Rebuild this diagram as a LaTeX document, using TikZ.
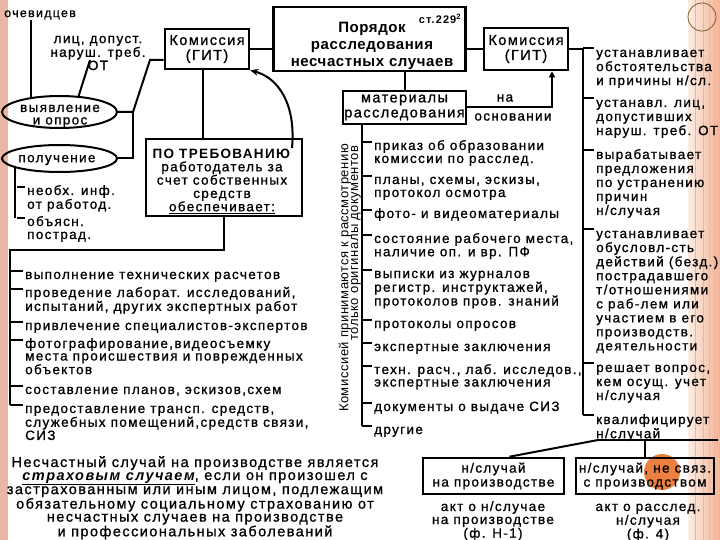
\documentclass[tikz,border=0pt]{standalone}
\usepackage{fontspec}
\setmainfont{Liberation Sans}[LetterSpace=10,UprightFeatures={FakeBold=1}]
\newfontfamily\tfam{Liberation Sans}[LetterSpace=4]
\usetikzlibrary{arrows.meta,shapes.geometric}
\definecolor{pinkbar}{RGB}{233,183,163}
\definecolor{stripeA}{RGB}{253,236,226}
\definecolor{stripeB}{RGB}{243,180,152}
\definecolor{orng}{RGB}{236,128,64}
\newcommand\fA{\fontsize{13.5}{13}\selectfont}
\newcommand\fAt{\fontsize{13.5}{12.5}\selectfont}
\newcommand\fR{\fontsize{13.5}{14}\selectfont}
\newcommand\fT{\tfam\fontsize{15}{17}\selectfont\bfseries}
\newcommand\fK{\fontsize{14.5}{15}\selectfont}
\newcommand\tl[1]{\begin{tabular}[t]{@{}l@{}}#1\end{tabular}}
\newcommand\tc[1]{\begin{tabular}[t]{@{}c@{}}#1\end{tabular}}
\begin{document}
\begin{tikzpicture}[x=1pt,y=-1pt,
  box/.style={draw, line width=2.6pt, inner sep=0pt, align=center},
  ln/.style={line width=2pt},
  tk/.style={line width=2pt},
  itm/.style={anchor=base west, inner sep=0pt, font=\fA},
  itmt/.style={anchor=base west, inner sep=0pt, font=\fAt},
  ritm/.style={anchor=base west, inner sep=0pt, font=\fR},
  lbl/.style={inner sep=0pt, align=center},
  ell/.style={draw, ellipse, line width=2pt, inner sep=0pt}]
\useasboundingbox (0,0) rectangle (720,540);
% decoration
\fill[pinkbar] (0,0) rectangle (8,540);
\shade[left color=stripeA, right color=stripeB] (688,0) rectangle (720,540);
\foreach \x in {695,703,709,714} \draw[stripeB, line width=1pt] (\x,0) -- (\x,540);
\draw[brown!70!black, line width=0.8pt] (702,17) circle[radius=14];
\fill[orng] (662,472) circle[radius=18];

% main boxes
\node[box, minimum width=192pt, minimum height=64pt] (title) at (369.5,39) {};
\node[lbl, font=\fT] (ttl) at (372,46) {Порядок\\расследования\\несчастных случаев};
\node[lbl, font=\fontsize{11}{11}\selectfont\bfseries] (art) at (440,19) {ст.229\textsuperscript{2}};
\node[box, minimum width=84pt, minimum height=40pt, font=\fK] (kom1) at (207,49) {Комиссия\\(ГИТ)};
\node[box, minimum width=84pt, minimum height=42pt, font=\fK] (kom2) at (526,49) {Комиссия\\(ГИТ)};
\node[box, minimum width=123pt, minimum height=33pt, font=\fK] (mat) at (404.5,107.5) {материалы\\расследования};
\node[lbl, font=\fA] (na) at (505,98) {на};
\node[lbl, font=\fA] (osn) at (513,117) {основании};
\node[box, minimum width=156pt, minimum height=77pt] (req) at (224,177.5) {};
\node[lbl, font=\fontsize{13.5}{13.3}\selectfont] (reqt) at (222,181) {\textbf{ПО ТРЕБОВАНИЮ}\\работодатель за\\счет собственных\\средств\\\underline{обеспечивает:}};

% ellipses and left top
\node[ell, minimum width=115pt, minimum height=32pt] (vyav) at (59.5,112) {};
\node[lbl, font=\fAt] (vyavt) at (60,116) {выявление\\и опрос};
\node[ell, minimum width=115pt, minimum height=27pt] (pol) at (59.5,158.5) {};
\node[lbl, font=\fA] (polt) at (57,160) {получение};
\node[lbl, font=\fontsize{12.5}{13}\selectfont, anchor=west] (ochev) at (4,15) {очевидцев};
\node[lbl, font=\fontsize{13.5}{11.5}\selectfont] (lic) at (98,53) {лиц, допуст.\\наруш. треб.\\ОТ};
\node[itm] (i1) at (27,195) {\tl{необх. инф.\\от работод.}};
\node[itm] (i2) at (27,226) {\tl{объясн.\\пострад.}};

% left list
\node[itm] (l1) at (25,279) {выполнение технических расчетов};
\node[itm] (l2) at (25,297) {\tl{проведение лаборат. исследований,\\испытаний, других экспертных работ}};
\node[itm] (l3) at (25,330) {привлечение специалистов-экспертов};
\node[itmt] (l4) at (25,348) {\tl{фотографирование,видеосъемку\\места происшествия и поврежденных\\объектов}};
\node[itm] (l5) at (25,394) {составление планов, эскизов,схем};
\node[itmt] (l6) at (25,413) {\tl{предоставление трансп. средств,\\служебных помещений,средств связи,\\СИЗ}};

% middle list
\node[lbl, rotate=90, font=\tfam\fontsize{13}{13}\selectfont] (rot1) at (345,278) {Комиссией принимаются к рассмотрению};
\node[lbl, rotate=90, font=\tfam\fontsize{13}{13}\selectfont] (rot2) at (356,243) {только оригиналы документов};
\node[itm] (m1) at (374,150) {\tl{приказ об образовании\\комиссии по расслед.}};
\node[itm] (m2) at (374,184) {\tl{планы, схемы, эскизы,\\протокол осмотра}};
\node[itm] (m3) at (374,218) {фото- и видеоматериалы};
\node[itm] (m4) at (374,243) {\tl{состояние рабочего места,\\наличие оп. и вр. ПФ}};
\node[itmt] (m5) at (374,278) {\tl{выписки из журналов\\регистр. инструктажей,\\протоколов пров. знаний}};
\node[itm] (m6) at (374,328) {протоколы опросов};
\node[itm] (m7) at (374,351) {экспертные заключения};
\node[itmt] (m8) at (374,374) {\tl{техн. расч., лаб. исследов.,\\экспертные заключения}};
\node[itm] (m9) at (374,411) {документы о выдаче СИЗ};
\node[itm] (m10) at (374,434) {другие};

% right list
\node[ritm] (r1) at (596,57) {\tl{устанавливает\\обстоятельства\\и причины н/сл.}};
\node[ritm] (r2) at (596,107) {\tl{устанавл. лиц,\\допустивших\\наруш. треб. ОТ}};
\node[ritm] (r3) at (596,159) {\tl{вырабатывает\\предложения\\по устранению\\причин\\н/случая}};
\node[ritm] (r4) at (596,238) {\tl{устанавливает\\обусловл-сть\\действий (безд.)\\пострадавшего\\т/отношениями\\с раб-лем или\\участием в его\\производств.\\деятельности}};
\node[ritm] (r5) at (596,372) {\tl{решает вопрос,\\кем осущ. учет\\н/случая}};
\node[ritm] (r6) at (596,424) {\tl{квалифицирует\\н/случай}};

% bottom
\node[box, minimum width=141pt, minimum height=36pt, font=\fR] (ns1) at (493.5,476) {н/случай\\на производстве};
\node[box, minimum width=138pt, minimum height=36pt, font=\fR] (ns2) at (645,476) {н/случай, не связ.\\с производством};
\node[inner sep=0pt, font=\fontsize{13.5}{13}\selectfont, anchor=base] (akt1) at (493,511) {\tc{акт о н/случае\\на производстве\\(ф. Н-1)}};
\node[inner sep=0pt, font=\fontsize{13.5}{13}\selectfont, anchor=base] (akt2) at (648,511) {\tc{акт о расслед.\\н/случая\\(ф. 4)}};
\node[inner sep=0pt, font=\fontsize{14.5}{13}\selectfont, anchor=base] (para) at (195,467) {\tc{Несчастный случай на производстве является\\\textbf{\textit{\underline{страховым случаем}}}, если он произошел с\\застрахованным или иным лицом, подлежащим\\обязательному социальному страхованию от\\несчастных случаев на производстве\\и профессиональных заболеваний}};

% connectors
\draw[ln] (vyav.153) -- (vyav.153 |- ochev.south);
\coordinate (ot) at (90,60);
\draw[ln] (ot) -- (vyav.40);
\coordinate (j1) at (133,112);
\coordinate (j2) at (150,60);
\draw[ln] (vyav.east) -- (j1) -- (j2) -- (j2 -| kom1.west);
\draw[ln] (j1) |- (pol.east);
\coordinate (pe) at (17,218);
\draw[ln] (pol.192) -- (pol.192 |- pe);
\foreach \n in {i1,i2} \draw[tk] ([shift={(-2pt,8pt)}]\n.base west) -- ++(-8,0);
\draw[ln] (kom1.east) -- (kom1.east -| title.west);
\draw[ln] (title.east |- kom2.west) -- (kom2.west);
\draw[ln] (title.south -| mat.north) -- (mat.north);
\coordinate (nb) at (552,107.5);
\draw[ln, -{Triangle[length=6pt,width=6pt]}] (mat.east) -- (nb) -- (nb |- kom2.south);
\coordinate (k1s) at (203,70);
\draw[ln] (k1s) -- (k1s |- req.north);
\coordinate (cv) at (292,148);
\draw[ln, -{Stealth[length=8pt,width=7pt]}] (cv) .. controls (296,105) and (279,78) .. (kom1.south east);
\draw[ln] (req.south) -- ++(0,33) -| ([shift={(-15pt,8pt)}]l6.base west);
\foreach \n in {l1,l2,l3,l4,l5,l6} \draw[tk] ([shift={(-2pt,8pt)}]\n.base west) -- ++(-13,0);
\coordinate (mt) at (362,125);
\draw[ln] (mt) -- ([shift={(-12pt,8pt)}]m10.base west);
\foreach \n in {m1,m2,m3,m4,m5,m6,m7,m8,m9,m10} \draw[tk] ([shift={(-2pt,8pt)}]\n.base west) -- ++(-10,0);
\coordinate (rt) at (583,49);
\draw[ln] (kom2.east) -- (rt) -- ([shift={(-13pt,9pt)}]r6.base west);
\foreach \n in {r1,r2,r3,r4,r5,r6} \draw[tk] ([shift={(-2pt,9pt)}]\n.base west) -- ++(-11,0);
\coordinate (bh) at (598,440);
\draw[ln] (bh) -- (718,440);
\draw[ln] (bh) -- ([xshift=16pt]ns1.north);
\draw[ln] (ns2.north |- bh) -- (ns2.north);
\end{tikzpicture}
\end{document}
